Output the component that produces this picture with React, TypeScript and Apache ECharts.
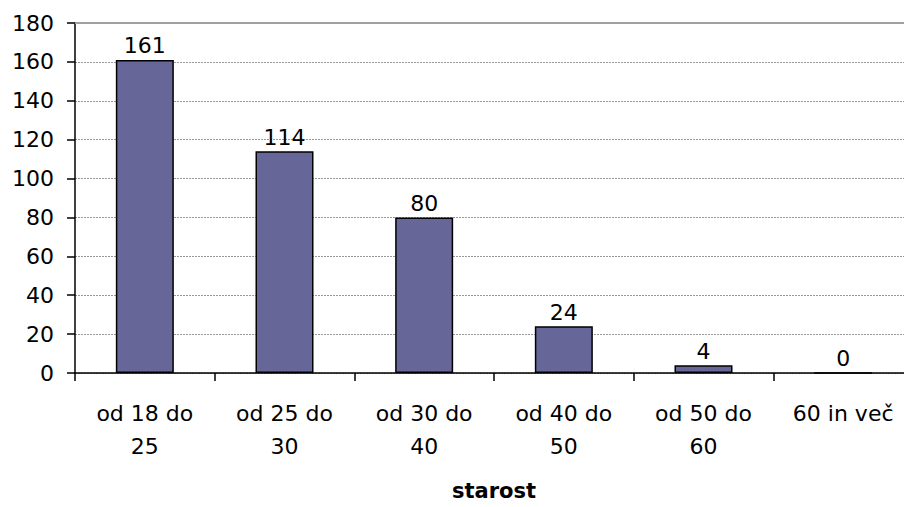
import React, { useEffect, useRef } from "react";
import * as echarts from "echarts";

const categories = ["od 18 do\n25", "od 25 do\n30", "od 30 do\n40", "od 40 do\n50", "od 50 do\n60", "60 in več"];
const values = [161, 114, 80, 24, 4, 0];
const axisName = "starost";

export default function App() {
  const ref = useRef<HTMLDivElement>(null);
  useEffect(() => {
    const chart = echarts.init(ref.current!, null, { renderer: "svg" });
    const font = "'DejaVu Sans', Tahoma, sans-serif";
    chart.setOption({
      animation: false,
      textStyle: { fontFamily: font },
      grid: { left: 75, right: -9, top: 23, bottom: 134, containLabel: false, outerBoundsMode: "none" },
      xAxis: [
        {
          type: "category",
          data: categories,
          position: "bottom",
          axisLine: { lineStyle: { color: "#000", width: 1.5 } },
          axisTick: { show: true, length: 8, alignWithLabel: false, lineStyle: { color: "#000", width: 1.5 } },
          axisLabel: { color: "#000", fontSize: 22, fontFamily: font, lineHeight: 33, margin: 24, interval: 0 },
          name: axisName,
          nameLocation: "middle",
          nameGap: 107,
          nameTextStyle: { color: "#000", fontSize: 21, fontWeight: "bold", fontFamily: font },
        },
        {
          type: "category",
          data: categories,
          position: "top",
          axisLine: { lineStyle: { color: "#a0a0a0", width: 2 } },
          axisTick: { show: false },
          axisLabel: { show: false },
        },
      ],
      yAxis: {
        type: "value",
        min: 0,
        max: 180,
        interval: 20,
        axisLine: { show: true, lineStyle: { color: "#000", width: 1.5 } },
        axisTick: { show: true, length: 8, lineStyle: { color: "#000", width: 1.5 } },
        axisLabel: { color: "#000", fontSize: 22, fontFamily: font, margin: 21 },
        splitLine: { show: true, lineStyle: { color: "#999", width: 1, type: [2, 1] } },
      },
      series: [
        {
          type: "bar",
          data: values,
          xAxisIndex: 0,
          barWidth: 58,
          itemStyle: { color: "#666699", borderColor: "#000", borderWidth: 1.5 },
          label: { show: true, position: "top", distance: 3, color: "#000", fontSize: 22, fontFamily: font },
        },
      ],
    });
    return () => chart.dispose();
  }, []);
  return (
    <div
      ref={ref}
      style={{ position: "fixed", left: 0, top: 0, width: 904, height: 507, background: "#fff" }}
    />
  );
}
